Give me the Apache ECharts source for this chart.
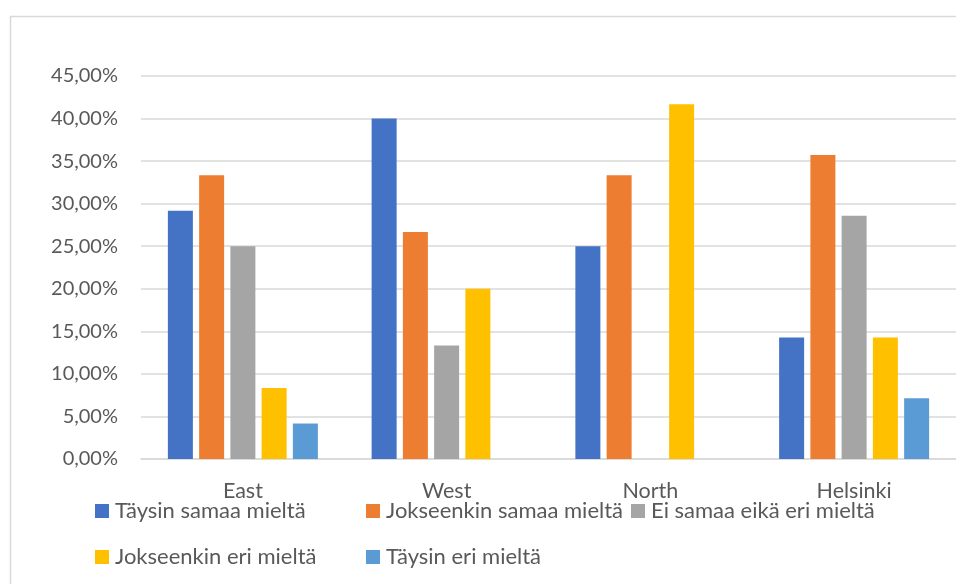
<!DOCTYPE html>
<html>
<head>
<meta charset="utf-8">
<style>
  html, body { margin: 0; padding: 0; background: #ffffff; }
  #chart { width: 956px; height: 584px; }
</style>
<script src="https://cdn.jsdelivr.net/npm/echarts@6/dist/echarts.min.js"></script>
</head>
<body>
<div id="chart"></div>
<script>
// Survey answers by region, share of respondents (%)
const regions = ['East', 'West', 'North', 'Helsinki'];
const seriesNames = [
  'Täysin samaa mieltä',
  'Jokseenkin samaa mieltä',
  'Ei samaa eikä eri mieltä',
  'Jokseenkin eri mieltä',
  'Täysin eri mieltä'
];
const taysinSamaa      = [29.17, 40.00, 25.00, 14.29];
const jokseenkinSamaa  = [33.33, 26.67, 33.33, 35.71];
const eiSamaaEikaEri   = [25.00, 13.33, 0.00, 28.57];
const jokseenkinEri    = [8.33, 20.00, 41.67, 14.29];
const taysinEri        = [4.17, 0.00, 0.00, 7.14];
const yTicks = [0, 5, 10, 15, 20, 25, 30, 35, 40, 45];

const values = [taysinSamaa, jokseenkinSamaa, eiSamaaEikaEri, jokseenkinEri, taysinEri];
const colors = ['#4472C4', '#ED7D31', '#A5A5A5', '#FFC000', '#5B9BD5'];

const FONT = 'Lato, "Liberation Sans", sans-serif';
const TEXT = '#595959';
const GRID = '#D9D9D9';

const fmtPct = v => v.toFixed(2).replace('.', ',') + '%';

// legend entries laid out in two rows, like the spreadsheet legend
const legendSlots = [
  { left: 95,  top: 500 },
  { left: 366, top: 500 },
  { left: 631, top: 500 },
  { left: 95,  top: 546 },
  { left: 366, top: 546 }
];

const chart = echarts.init(document.getElementById('chart'), null, { renderer: 'canvas' });

chart.setOption({
  animation: false,
  backgroundColor: '#ffffff',
  color: colors,
  textStyle: { fontFamily: FONT, color: TEXT },
  graphic: [{
    type: 'rect',
    left: 8, top: 14,
    shape: { width: 1000, height: 700 },
    style: { fill: 'none', stroke: GRID, lineWidth: 1.5 },
    silent: true,
    z: -1
  }],
  grid: { left: 141, right: -1, top: 76, bottom: 125, containLabel: false },
  legend: seriesNames.map((name, i) => ({
    data: [name],
    left: legendSlots[i].left,
    top: legendSlots[i].top,
    icon: 'rect',
    itemWidth: 14,
    itemHeight: 14,
    padding: 0,
    selectedMode: false,
    textStyle: { fontFamily: FONT, fontSize: 22, color: TEXT, padding: [0, 0, 0, 1] }
  })),
  xAxis: {
    type: 'category',
    data: regions,
    axisLine: { show: true, lineStyle: { color: GRID, width: 1.5 } },
    axisTick: { show: false },
    axisLabel: { fontFamily: FONT, fontSize: 21.5, color: TEXT, margin: 21 }
  },
  yAxis: {
    type: 'value',
    min: yTicks[0],
    max: yTicks[yTicks.length - 1],
    interval: yTicks[1] - yTicks[0],
    axisLine: { show: false },
    axisTick: { show: false },
    splitLine: { lineStyle: { color: GRID, width: 1.5 } },
    axisLabel: {
      fontFamily: FONT, fontSize: 20, color: TEXT, margin: 23,
      formatter: v => fmtPct(v)
    }
  },
  series: seriesNames.map((name, i) => ({
    name,
    type: 'bar',
    data: values[i],
    barWidth: 25,
    barGap: '25%',
    itemStyle: { color: colors[i] }
  }))
});
</script>
</body>
</html>
